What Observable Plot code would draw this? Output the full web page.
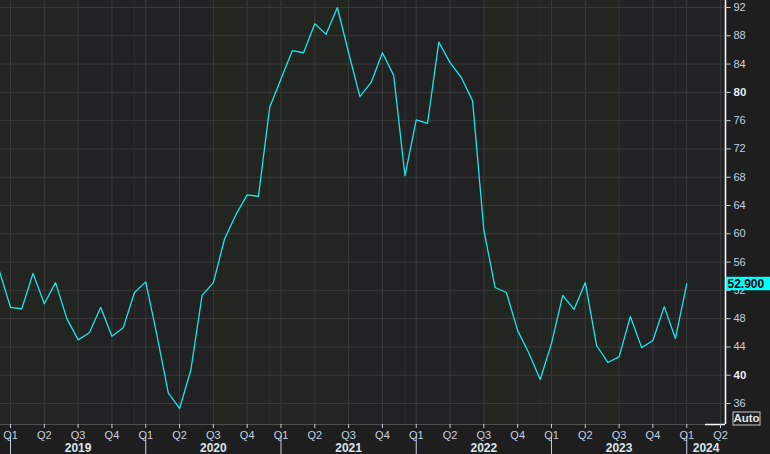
<!DOCTYPE html>
<html><head><meta charset="utf-8">
<script src="https://cdn.jsdelivr.net/npm/d3@7"></script>
<script src="https://cdn.jsdelivr.net/npm/@observablehq/plot@0.6"></script>
<style>
html,body{margin:0;padding:0;background:#1e1e1e;}
#chart{width:770px;height:454px;overflow:hidden;}
</style></head><body><div id="chart"></div>
<script>
// ---- data (monthly) ----
const startMonth = "2018-12";
const values = [
  54.8,
  49.6, 49.4, 54.4, 50.1, 53.1, 48.0, 45.0, 46.0, 49.6, 45.5, 46.7, 51.7,
  53.2, 45.6, 37.5, 35.3, 40.7, 51.3, 53.1, 59.3, 62.7, 65.5, 65.3, 77.9,
  81.9, 85.9, 85.6, 89.7, 88.2, 92.0, 85.6, 79.4, 81.4, 85.6, 82.4, 68.2,
  76.1, 75.6, 87.1, 84.2, 82.1, 78.8, 60.5, 52.4, 51.7, 46.3, 43.1, 39.4,
  44.5, 51.3, 49.3, 53.1, 44.2, 41.8, 42.6, 48.3, 43.9, 44.9, 49.7, 45.2,
  52.9
];
const yTicks = [36, 40, 44, 48, 52, 56, 60, 64, 68, 72, 76, 80, 84, 88, 92];
const boldTicks = [40, 80];
const quarterNames = ["Q1", "Q2", "Q3", "Q4"];
const quarterTicks = ["2019-01","2019-04","2019-07","2019-10","2020-01","2020-04","2020-07","2020-10",
  "2021-01","2021-04","2021-07","2021-10","2022-01","2022-04","2022-07","2022-10",
  "2023-01","2023-04","2023-07","2023-10","2024-01","2024-04"];
const years = [2019, 2020, 2021, 2022, 2023, 2024];
const lastLabel = "52.900";
const autoLabel = "Auto";

// month index: 0 = Jan 2019
const idx = s => { const [y, m] = s.split("-").map(Number); return (y - 2019) * 12 + (m - 1); };
const m0 = idx(startMonth);
const data = values.map((v, i) => ({m: m0 + i, v}));
const last = data[data.length - 1];

const xDom = [-0.887, 63.44];
const yDom = [33.03, 92.99];
const xMax = xDom[1], yMin = yDom[0];

// alternating background bands, boundaries at mid-year
const bandEdges = [xDom[0], ...years.slice(0, 5).map(y => (y - 2019) * 12 + 6), xDom[1]];
const bands = bandEdges.slice(0, -1).map((e, i) => ({x1: e, x2: bandEdges[i + 1], k: i % 2}));

const quarters = quarterTicks.map(s => ({m: idx(s), q: quarterNames[(+s.split("-")[1] - 1) / 3]}));
const decembers = years.slice(0, 5).map(y => (y - 2019) * 12 + 11);
const yearLabels = years.map(y => {
  const a = (y - 2019) * 12, b = Math.min(a + 12, xMax);
  return {m: (a + b) / 2, y};
});
const yearSeps = years.map(y => (y - 2019) * 12);

const labelColor = "#c3cfe0";
const font = "'Liberation Sans', Arial, sans-serif";

const plot = Plot.plot({
  width: 770, height: 454,
  marginLeft: 0, marginRight: 45, marginTop: 0, marginBottom: 30,
  x: {type: "linear", domain: xDom, axis: null},
  y: {type: "linear", domain: yDom, axis: null},
  style: {background: "#1e1e1e", fontFamily: font, overflow: "visible"},
  marks: [
    Plot.rect(bands, {x1: "x1", x2: "x2", y1: yDom[0], y2: yDom[1], fill: d => d.k ? "#222124" : "#232521"}),
    Plot.ruleX(decembers, {stroke: "#2c2d2b", strokeWidth: 1}),
    Plot.ruleY(yTicks, {stroke: "#3a3a3a", strokeWidth: 1}),
    Plot.ruleX(quarters, {x: "m", stroke: "#3a3a3a", strokeWidth: 1}),
    Plot.ruleY([yMin], {stroke: "#4e4e4e", strokeWidth: 1}),
    Plot.ruleY([yMin], {x1: xMax - 20 / 11.27, x2: xMax, stroke: "#ffffff", strokeWidth: 1.5}),
    Plot.ruleX([xMax], {y1: yDom[0], y2: yDom[1], stroke: "#ffffff", strokeWidth: 1.5}),
    Plot.line(data, {x: "m", y: "v", stroke: "#17e8ea", strokeWidth: 1.3}),
    // right axis
    Plot.ruleY(yTicks, {x1: xMax, x2: xMax + 0.5, stroke: labelColor, strokeWidth: 1}),
    Plot.text(yTicks.filter(t => !boldTicks.includes(t)), {x: xMax, y: d => d, text: d => String(d), dx: 8, textAnchor: "start", fill: labelColor, fontSize: 11}),
    Plot.text(boldTicks, {x: xMax, y: d => d, text: d => String(d), dx: 8, textAnchor: "start", fill: "#e6ecf5", fontSize: 11.5, fontWeight: "bold"}),
    // last value label
    Plot.rect([last], {x1: xMax + 0.08, x2: xMax + 4.2, y1: d => d.v - 0.95, y2: d => d.v + 0.95, fill: "#00ffff"}),
    Plot.text([last], {x: xMax, y: "v", text: () => lastLabel, dx: 2, textAnchor: "start", fill: "#000000", fontSize: 12, fontWeight: "bold"}),
    // bottom axis
    Plot.ruleX(quarters, {x: "m", y1: yMin, y2: yMin - 4 / 7.07, stroke: labelColor, strokeWidth: 1}),
    Plot.text(quarters, {x: "m", y: yMin, text: "q", dy: 11, fill: labelColor, fontSize: 11}),
    Plot.ruleX(yearSeps, {y1: yMin - 12 / 7.07, y2: yMin - 32 / 7.07, stroke: "#c8d0dc", strokeWidth: 1}),
    Plot.text(yearLabels, {x: "m", y: yMin, text: d => String(d.y), dy: 24, fill: "#dde4ee", fontSize: 12, fontWeight: "bold"})
  ]
});

// "Auto" badge placed with the plot's scales
const sx = plot.scale("x"), sy = plot.scale("y");
const svg = d3.select(plot);
const ax = sx.apply(xMax) + 8, ay = sy.apply(yMin);
const g = svg.append("g");
g.append("rect").attr("x", ax).attr("y", ay - 12).attr("width", 27).attr("height", 13)
  .attr("fill", "none").attr("stroke", "#c8c8c8").attr("stroke-width", 1);
g.append("text").attr("x", ax + 13.5).attr("y", ay - 5.5).attr("text-anchor", "middle")
  .attr("dominant-baseline", "middle").attr("fill", "#dfe6ef").attr("font-size", 11.5)
  .attr("font-weight", "bold").attr("font-family", font).text(autoLabel);

document.getElementById("chart").appendChild(plot);
</script></body></html>
